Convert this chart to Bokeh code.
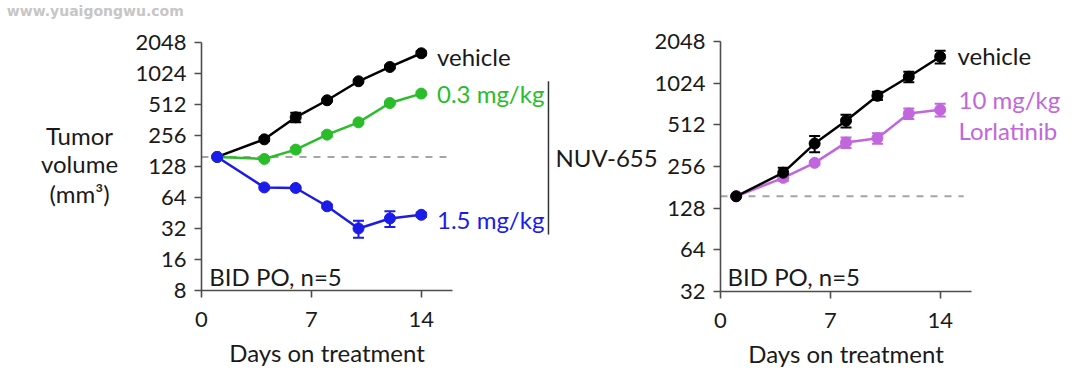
from bokeh.plotting import figure
from bokeh.models import (Range1d, FixedTicker, NumeralTickFormatter, Whisker,
                          ColumnDataSource, Label, TeeHead, LogAxis, LinearAxis,
                          LogScale)
from bokeh.embed import file_html
from bokeh.resources import INLINE

# ---------------- data ----------------
days = [1, 4, 6, 8, 10, 12, 14]
x_ticks = [0, 7, 14]

left_y_ticks = [8, 16, 32, 64, 128, 256, 512, 1024, 2048]
nuv_vehicle = [158, 234, 383, 560, 856, 1178, 1600]
nuv_vehicle_sem = [0, 8, 40, 15, 25, 40, 73]
nuv_low = [158, 151, 186, 260, 342, 527, 650]
nuv_low_sem = [0, 5, 8, 12, 10, 15, 15]
nuv_high = [158, 80, 79, 52.5, 32, 40, 43.4]
nuv_high_sem = [0, 2, 2, 2, 6, 7, 2]
left_baseline = 158

right_y_ticks = [32, 64, 128, 256, 512, 1024, 2048]
lor_vehicle = [156, 231, 375, 548, 830, 1140, 1590]
lor_vehicle_sem = [0, 20, 50, 58, 57, 99, 167]
lor_treated = [156, 212, 272, 381, 410, 618, 657]
lor_treated_sem = [0, 11, 8, 33, 36, 54, 69]
right_baseline = 156

FONT = "Lato"
TXT = "#1a1a1a"
AX = "#4d4d4d"
BLACK = "#000000"
GREEN = "#2abd2a"
BLUE = "#1c1ce8"
VIOLET = "#c266de"
TICK_FS = "22px"
FS = "24px"
WIDTH = 1075
HEIGHT = 385


def x_range_for(day0_px, px_per_day):
    return Range1d(-day0_px / px_per_day, (WIDTH - day0_px) / px_per_day)


def y_range_for(y_hi, y_hi_px, px_per_dbl):
    return Range1d(y_hi * 2 ** (-(HEIGHT - y_hi_px) / px_per_dbl),
                   y_hi * 2 ** (y_hi_px / px_per_dbl))


p = figure(width=WIDTH, height=HEIGHT,
           x_range=x_range_for(201, 15.7),
           y_range=y_range_for(2048, 41.7, 31.04), y_axis_type="log",
           x_axis_location=None, y_axis_location=None,
           output_backend="svg", toolbar_location=None, min_border=0)
p.extra_x_ranges = {"r": x_range_for(720, 15.69)}
p.extra_y_ranges = {"r": y_range_for(2048, 41.0, 41.67)}
p.extra_y_scales = {"r": LogScale()}
p.outline_line_color = None
p.xgrid.grid_line_color = None
p.ygrid.grid_line_color = None
p.background_fill_color = "white"
p.border_fill_color = "white"

L = dict(x_range_name="default", y_range_name="default")
R = dict(x_range_name="r", y_range_name="r")


def add_axes(rn, y_lo, y_hi, y_ticks):
    xa = LinearAxis(fixed_location=y_lo, bounds=(0, 16),
                    ticker=FixedTicker(ticks=x_ticks), **rn)
    ya = LogAxis(fixed_location=0, bounds=(y_lo, y_hi),
                 ticker=FixedTicker(ticks=y_ticks),
                 formatter=NumeralTickFormatter(format="0"), **rn)
    for ax in (xa, ya):
        ax.axis_line_color = AX
        ax.axis_line_width = 1.6
        ax.major_tick_line_color = AX
        ax.major_tick_line_width = 1.6
        ax.major_tick_out = 7
        ax.major_tick_in = 0
        ax.minor_tick_line_color = None
        ax.major_label_text_font = FONT
        ax.major_label_text_font_size = TICK_FS
        ax.major_label_text_color = TXT
    xa.major_label_standoff = 14
    xa.axis_label = "Days on treatment"
    xa.axis_label_text_font = FONT
    xa.axis_label_text_font_size = FS
    xa.axis_label_text_font_style = "normal"
    xa.axis_label_text_color = TXT
    xa.axis_label_standoff = 8
    ya.major_label_standoff = 8
    p.add_layout(xa, "below")
    p.add_layout(ya, "left")


def series(y, sem, color, rn):
    lo = [v - s for v, s in zip(y, sem)]
    hi = [v + s for v, s in zip(y, sem)]
    src = ColumnDataSource(dict(x=days, y=y, lo=lo, hi=hi))
    p.line("x", "y", source=src, line_color=color, line_width=2.5, **rn)
    w = Whisker(base="x", upper="hi", lower="lo", source=src,
                line_color=color, line_width=2,
                upper_head=TeeHead(size=11, line_color=color, line_width=2),
                lower_head=TeeHead(size=11, line_color=color, line_width=2),
                **rn)
    p.add_layout(w)
    p.scatter("x", "y", source=src, size=11, fill_color=color,
              line_color=color, **rn)


def label(x, y, text, rn, color=TXT, align="left", baseline="middle",
          size=FS, font=FONT, style="normal"):
    p.add_layout(Label(x=x, y=y, text=text, text_color=color, text_align=align,
                       text_baseline=baseline, text_font=font,
                       text_font_size=size, text_font_style=style, **rn))


# ---------------- left panel ----------------
add_axes(L, 8, 2048, left_y_ticks)
p.line([0, 15.6], [left_baseline, left_baseline], line_color="#a5a5a5",
       line_width=2, line_dash="7 7", **L)
series(nuv_vehicle, nuv_vehicle_sem, BLACK, L)
series(nuv_low, nuv_low_sem, GREEN, L)
series(nuv_high, nuv_high_sem, BLUE, L)
p.segment(x0=[22.1], y0=[28], x1=[22.1], y1=[856], line_color="#333333",
          line_width=1.5, **L)
label(15.0, 1500, "vehicle", L)
label(15.0, 655, "0.3 mg/kg", L, color=GREEN)
label(15.0, 39, "1.5 mg/kg", L, color=BLUE)
label(22.55, 156, "NUV-655", L)
label(0.5, 10.9, "BID PO, n=5", L)
label(-7.77, 256, "Tumor", L, align="center")
label(-7.77, 137, "volume", L, align="center")
label(-7.77, 70, "(mm\u00b3)", L, align="center")
label(-12.4, 4070, "www.yuaigongwu.com", L, color="#c6c6c6", size="14px",
      font="DejaVu Sans", style="bold")

# ---------------- right panel ----------------
add_axes(R, 32, 2048, right_y_ticks)
p.line([0, 15.5], [right_baseline, right_baseline], line_color="#a5a5a5",
       line_width=2, line_dash="7 7", **R)
series(lor_treated, lor_treated_sem, VIOLET, R)
series(lor_vehicle, lor_vehicle_sem, BLACK, R)
label(15.1, 1618, "vehicle", R)
label(15.17, 774, "10 mg/kg", R, color=VIOLET)
label(15.17, 467, "Lorlatinib", R, color=VIOLET)
label(0.45, 41.1, "BID PO, n=5", R)

open("out.html", "w").write(file_html(p, INLINE))
